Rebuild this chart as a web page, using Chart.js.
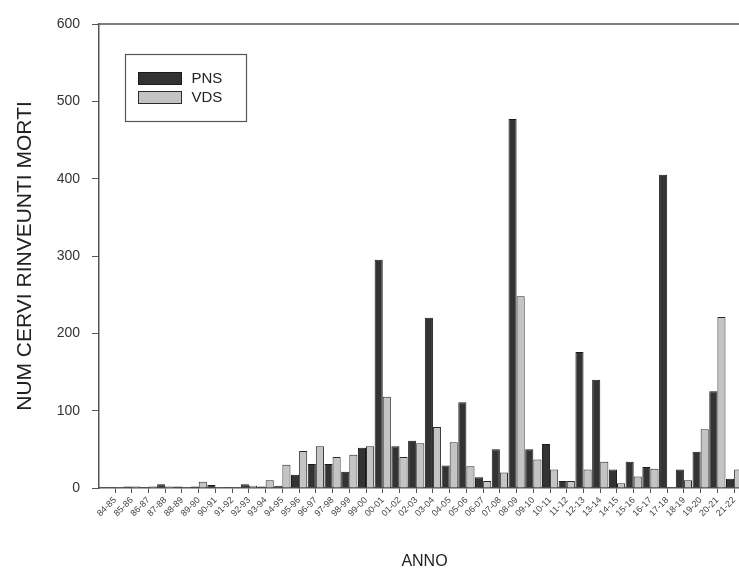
<!DOCTYPE html>
<html>
<head>
<meta charset="utf-8">
<script src="https://cdn.jsdelivr.net/npm/chart.js@4.4.1/dist/chart.umd.min.js"></script>
<style>
  html, body { margin: 0; padding: 0; background: #fff; overflow: hidden; }
  canvas { display: block; }
</style>
</head>
<body>
<canvas id="chart" width="750" height="570" style="width:750px;height:570px"></canvas>
<script>
// Stagioni (asse X)
var seasons = ['84-85', '85-86', '86-87', '87-88', '88-89', '89-90', '90-91', '91-92',
    '92-93', '93-94', '94-95', '95-96', '96-97', '97-98', '98-99', '99-00', '00-01',
    '01-02', '02-03', '03-04', '04-05', '05-06', '06-07', '07-08', '08-09', '09-10',
    '10-11', '11-12', '12-13', '13-14', '14-15', '15-16', '16-17', '17-18', '18-19',
    '19-20', '20-21', '21-22'];

// Cervi rinvenuti morti per area
var pns = [1, 2, 1, 5, 2, 2, 4, 1, 5, 2,
    3, 17, 31, 31, 21, 52, 295, 54, 61, 220,
    29, 111, 14, 50, 477, 50, 57, 9, 176, 140,
    24, 34, 27, 405, 24, 47, 125, 12];
var vds = [1, 2, 2, 2, 1, 8, 1, 1, 3, 10,
    30, 48, 54, 40, 43, 54, 118, 40, 58, 79,
    59, 28, 9, 20, 248, 37, 24, 9, 24, 34,
    6, 15, 25, 0, 10, 76, 221, 24];

var yTicks = [0, 100, 200, 300, 400, 500, 600];

var axisColor = '#555';
var fontFamily = '"Liberation Sans", Arial, sans-serif';

function points(values) {
    return values.map(function (v, i) { return { x: i, y: v }; });
}

// top line of the frame + boxed legend inside the plot
var framePlugin = {
    id: 'frame',
    afterDraw: function (chart) {
        var ctx = chart.ctx,
            area = chart.chartArea;

        ctx.save();
        ctx.strokeStyle = axisColor;
        ctx.lineWidth = 1.5;
        ctx.beginPath();
        ctx.moveTo(area.left, area.top);
        ctx.lineTo(area.right, area.top);
        ctx.stroke();

        var bx = area.left + 26.5,
            by = area.top + 30.5;
        ctx.lineWidth = 1.2;
        ctx.strokeRect(bx, by, 121, 67);

        ctx.font = '15px ' + fontFamily;
        ctx.textBaseline = 'middle';
        chart.data.datasets.forEach(function (ds, i) {
            var sy = by + 18 + i * 19;
            ctx.fillStyle = ds.backgroundColor;
            ctx.fillRect(bx + 13, sy, 43, 12);
            ctx.strokeStyle = ds.borderColor;
            ctx.lineWidth = 1;
            ctx.strokeRect(bx + 13, sy, 43, 12);
            ctx.fillStyle = '#222';
            ctx.fillText(ds.label, bx + 66, sy + 6.5);
        });
        ctx.restore();
    }
};

new Chart(document.getElementById('chart'), {
    type: 'bar',
    data: {
        datasets: [{
            label: 'PNS',
            data: points(pns),
            backgroundColor: '#333333',
            borderColor: '#1a1a1a',
            borderWidth: 1,
            categoryPercentage: 0.97,
            barPercentage: 1
        }, {
            label: 'VDS',
            data: points(vds),
            backgroundColor: '#c4c4c4',
            borderColor: '#2a2a2a',
            borderWidth: 1,
            categoryPercentage: 0.97,
            barPercentage: 1
        }]
    },
    options: {
        responsive: false,
        devicePixelRatio: 1,
        animation: false,
        layout: { padding: { top: 24, right: 0, bottom: 0, left: 0 } },
        plugins: {
            legend: { display: false },
            tooltip: { enabled: false }
        },
        scales: {
            x: {
                type: 'linear',
                offset: false,
                min: -0.96,
                max: 37.95,
                afterBuildTicks: function (scale) {
                    scale.ticks = seasons.map(function (s, i) { return { value: i }; });
                },
                afterFit: function (scale) {
                    scale.height = 82;
                    scale.paddingLeft = 0;
                    scale.paddingRight = 0;
                },
                grid: {
                    display: true,
                    offset: false,
                    drawOnChartArea: false,
                    drawTicks: true,
                    tickLength: 5,
                    tickColor: axisColor
                },
                border: { display: true, color: axisColor, width: 1.5 },
                ticks: {
                    autoSkip: false,
                    minRotation: 45,
                    maxRotation: 45,
                    padding: 2,
                    color: '#444',
                    font: { family: fontFamily, size: 9 },
                    callback: function (v) { return seasons[v]; }
                },
                title: {
                    display: true,
                    text: 'ANNO',
                    color: '#222',
                    padding: { top: 0, bottom: 0 },
                    font: { family: fontFamily, size: 16, lineHeight: 1 }
                }
            },
            y: {
                min: 0,
                max: 600,
                afterBuildTicks: function (scale) {
                    scale.ticks = yTicks.map(function (v) { return { value: v }; });
                },
                afterFit: function (scale) { scale.width = 99; },
                grid: {
                    display: true,
                    drawOnChartArea: false,
                    drawTicks: true,
                    tickLength: 7,
                    tickColor: axisColor
                },
                border: { display: true, color: axisColor, width: 1.5 },
                ticks: {
                    padding: 12,
                    color: '#333',
                    font: { family: fontFamily, size: 14 }
                },
                title: {
                    display: true,
                    text: 'NUM CERVI RINVEUNTI MORTI',
                    color: '#222',
                    padding: { top: 15, bottom: 0 },
                    font: { family: fontFamily, size: 21, lineHeight: 1 }
                }
            }
        }
    },
    plugins: [framePlugin]
});
</script>
</body>
</html>
